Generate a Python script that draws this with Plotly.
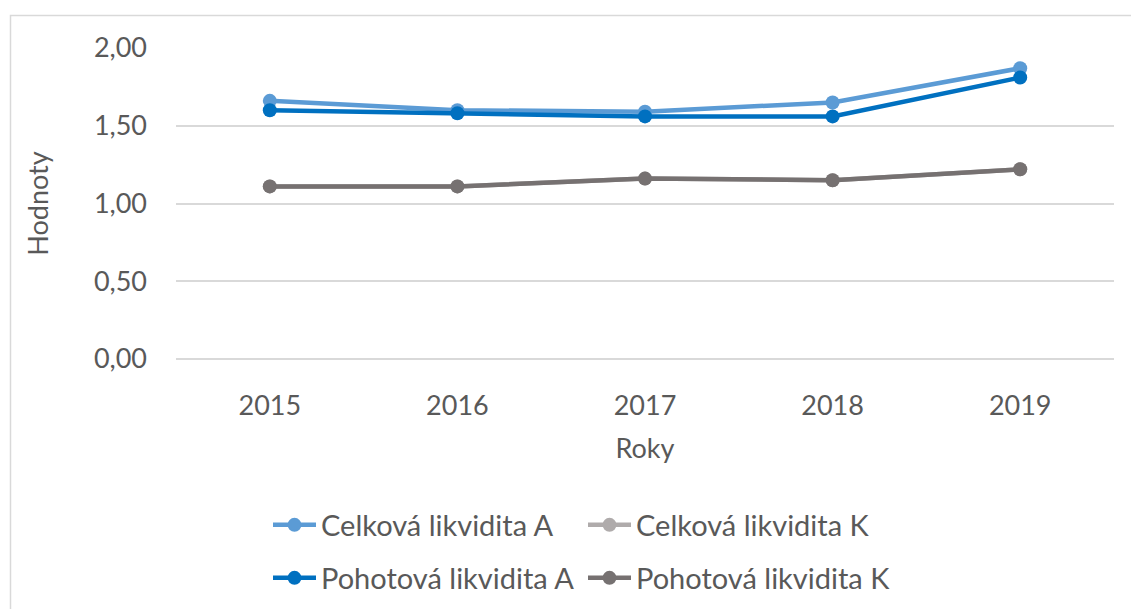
import plotly.graph_objects as go

years = ["2015", "2016", "2017", "2018", "2019"]
celkova_a = [1.66, 1.60, 1.59, 1.65, 1.87]
celkova_k = [1.11, 1.11, 1.16, 1.15, 1.22]
pohotova_a = [1.60, 1.58, 1.56, 1.56, 1.81]
pohotova_k = [1.11, 1.11, 1.16, 1.15, 1.22]
y_ticks = [0, 0.5, 1.0, 1.5, 2.0]
y_tick_labels = ["0,00", "0,50", "1,00", "1,50", "2,00"]

FONT = "Lato"
TXT = "#595959"

series = [
    ("Celková likvidita A", celkova_a, "#5B9BD5", "legend"),
    ("Celková likvidita K", celkova_k, "#AFABAB", "legend"),
    ("Pohotová likvidita A", pohotova_a, "#0070C0", "legend2"),
    ("Pohotová likvidita K", pohotova_k, "#767171", "legend2"),
]

fig = go.Figure()
for name, vals, color, leg in series:
    fig.add_trace(go.Scatter(
        x=years, y=vals, name=name, mode="lines+markers",
        line=dict(color=color, width=4.5),
        marker=dict(color=color, size=14),
        legend=leg,
    ))

W, H = 1131, 609
legend_common = dict(
    orientation="h", xref="container", yref="container",
    xanchor="left", yanchor="middle",
    font=dict(family=FONT, size=29, color=TXT),
    entrywidth=257, entrywidthmode="pixels", itemwidth=43,
    bgcolor="rgba(0,0,0,0)", borderwidth=0,
    traceorder="normal",
)

fig.update_layout(
    width=W, height=H,
    margin=dict(l=176, r=17, t=48, b=250),
    paper_bgcolor="white", plot_bgcolor="white",
    font=dict(family=FONT, size=27, color=TXT),
    showlegend=True,
    legend=dict(legend_common, x=268 / W, y=1 - 525 / H),
    legend2=dict(legend_common, x=268 / W, y=1 - 578 / H),
    xaxis=dict(
        type="category", range=[-0.5, 4.5],
        showgrid=False, showline=False, zeroline=False,
        ticks="", ticklabelstandoff=28,
        tickfont=dict(family=FONT, size=27, color=TXT),
        title=dict(text="Roky", font=dict(family=FONT, size=27, color=TXT), standoff=19),
    ),
    yaxis=dict(
        range=[0, 2], tickvals=y_ticks, ticktext=y_tick_labels,
        showgrid=True, gridcolor="#D9D9D9", gridwidth=1.5,
        zeroline=True, zerolinecolor="#D9D9D9", zerolinewidth=1.5,
        showline=False, ticks="", ticklabelstandoff=28,
        tickfont=dict(family=FONT, size=27, color=TXT),
        title=dict(text="Hodnoty", font=dict(family=FONT, size=27, color=TXT), standoff=37),
    ),
)

# chart area border (Excel chart frame), partially cropped in the picture
pw = W - 176 - 17
ph = H - 48 - 250
fig.add_shape(
    type="rect", xref="paper", yref="paper",
    x0=(10.5 - 176) / pw, x1=(W + 20 - 176) / pw,
    y0=-(H + 20 - 48 - ph) / ph, y1=1 + (48 - 15.5) / ph,
    line=dict(color="#D9D9D9", width=1.5), fillcolor="rgba(0,0,0,0)", layer="below",
)

fig.write_html("out.html")
